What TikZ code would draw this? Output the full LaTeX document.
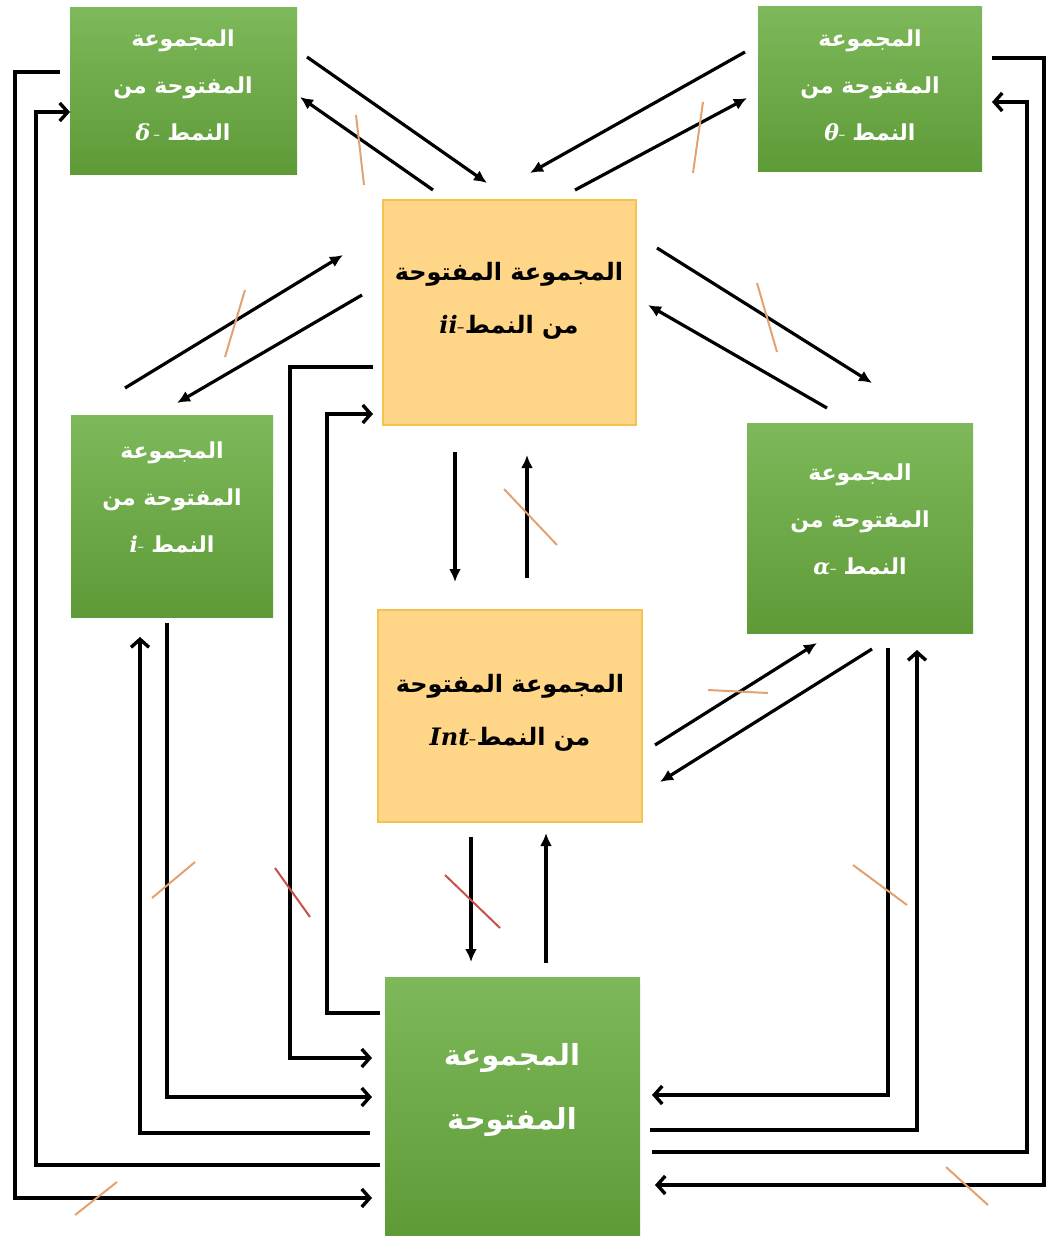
\documentclass[tikz,border=0pt]{standalone}
\usepackage{fontspec}
\newfontfamily\arabicfont[Script=Arabic]{DejaVu Sans}
\newfontfamily\symfont{DejaVu Serif}
\TeXXeTstate=1
\usetikzlibrary{arrows.meta}
\newcommand\ART[1]{{\arabicfont\bfseries\beginR #1\endR}}
\newcommand\MS[1]{{\symfont\bfseries\itshape #1}}
\definecolor{gtop}{HTML}{7DB85A}
\definecolor{gbot}{HTML}{5E9B37}
\definecolor{orfill}{HTML}{FFD587}
\definecolor{ordraw}{HTML}{F4C251}
\definecolor{slasho}{HTML}{E2A272}
\definecolor{slashr}{HTML}{C8504A}
\tikzset{
  gbox/.style={anchor=north west, inner sep=0pt, outer sep=0pt, draw=none,
    top color=gtop, bottom color=gbot},
  obox/.style={anchor=north west, inner sep=0pt, outer sep=0pt,
    fill=orfill, draw=ordraw, line width=1.2pt},
  gtext/.style={align=center, text=white, font=\fontsize{22}{47}\selectfont},
  otext/.style={align=center, text=black, font=\fontsize{24}{53}\selectfont},
  btext/.style={align=center, text=white, font=\fontsize{29}{64}\selectfont},
  diag/.style={line width=3.2pt, -{Latex[length=13pt,width=12pt]}},
  vert/.style={line width=3.4pt, -{Latex[length=13pt,width=12pt]}},
  route/.style={line width=3.6pt, -{Straight Barb[length=8pt,width=18pt,line width=3.4pt]}},
  cuto/.style={draw=slasho, line width=2pt},
  cutr/.style={draw=slashr, line width=2pt},
}
\begin{document}
\begin{tikzpicture}[x=1pt, y=-1pt]
\useasboundingbox[fill=white] (0,0) rectangle (1051,1236);

% boxes
\node[gbox, minimum width=227pt, minimum height=166pt] (delta) at (70,8) {};
\node[gbox, minimum width=224pt, minimum height=164pt] (theta) at (758,7) {};
\node[obox, minimum width=253pt, minimum height=225pt] (ii) at (383,200) {};
\node[gbox, minimum width=202pt, minimum height=202pt] (iset) at (71,415) {};
\node[gbox, minimum width=226pt, minimum height=210pt] (alpha) at (747,423) {};
\node[obox, minimum width=264pt, minimum height=212pt] (int) at (378,610) {};
\node[gbox, minimum width=255pt, minimum height=259pt] (open) at (385,977) {};

% labels
\node[gtext] (delta-t) at (183,85) {\ART{المجموعة}\\ \ART{المفتوحة من}\\ \MS{δ}\,-\ \ART{النمط}};
\node[gtext] (theta-t) at (870,85) {\ART{المجموعة}\\ \ART{المفتوحة من}\\ \MS{θ}-\ \ART{النمط}};
\node[gtext] (i-t) at (172,497) {\ART{المجموعة}\\ \ART{المفتوحة من}\\ \MS{i}-\ \ART{النمط}};
\node[gtext] (alpha-t) at (860,520) {\ART{المجموعة}\\ \ART{المفتوحة من}\\ \MS{α}-\ \ART{النمط}};
\node[otext] (ii-t) at (509,301) {\ART{المجموعة المفتوحة}\\ \MS{ii}-\ART{من النمط}};
\node[otext] (int-t) at (510,713) {\ART{المجموعة المفتوحة}\\ \MS{Int}-\ART{من النمط}};
\node[btext] (open-t) at (512,1090) {\ART{المجموعة}\\ \ART{المفتوحة}};

% diagonal pairs around the ii box
\draw[diag] ([shift={(10,49)}]delta.north east) -- ([shift={(104,-17)}]ii.north west);
\draw[diag] ([shift={(50,-10)}]ii.north west) -- ([shift={(3,89)}]delta.north east);
\draw[diag] ([shift={(-13,45)}]theta.north west) -- ([shift={(-106,-27)}]ii.north east);
\draw[diag] ([shift={(-61,-10)}]ii.north east) -- ([shift={(-11,91)}]theta.north west);
\draw[diag] ([shift={(54,-27)}]iset.north west) -- ([shift={(-40,55)}]ii.north west);
\draw[diag] ([shift={(-21,95)}]ii.north west) -- ([shift={(106,-12)}]iset.north west);
\draw[diag] ([shift={(21,48)}]ii.north east) -- ([shift={(125,-40)}]alpha.north west);
\draw[diag] ([shift={(80,-15)}]alpha.north west) -- ([shift={(12,105)}]ii.north east);

% ii <-> Int, Int <-> alpha, Int <-> open
\draw[vert] ([shift={(72,27)}]ii.south west) -- ([shift={(77,-28)}]int.north west);
\draw[vert] ([shift={(149,-32)}]int.north west) -- ([shift={(144,30)}]ii.south west);
\draw[diag] ([shift={(13,135)}]int.north east) -- ([shift={(70,10)}]alpha.south west);
\draw[diag] ([shift={(125,16)}]alpha.south west) -- ([shift={(18,172)}]int.north east);
\draw[vert] ([shift={(93,15)}]int.south west) -- ([shift={(86,-15)}]open.north west);
\draw[vert] ([shift={(161,-14)}]open.north west) -- ([shift={(168,11)}]int.south west);

% routed connectors, left side
\draw[route] ([shift={(-10,64)}]delta.north west) -- ++(-45,0) |- ([shift={(-13,-38)}]open.south west);
\draw[route] ([shift={(-5,-71)}]open.south west) -- ++(-344,0) |- ([shift={(0,104)}]delta.north west);
\draw[route] ([shift={(96,6)}]iset.south west) |- ([shift={(-13,120)}]open.north west);
\draw[route] ([shift={(-15,156)}]open.north west) -| ([shift={(69,20)}]iset.south west);
\draw[route] ([shift={(-10,167)}]ii.north west) -- ++(-83,0) |- ([shift={(-13,81)}]open.north west);
\draw[route] ([shift={(-5,36)}]open.north west) -- ++(-53,0) |- ([shift={(-10,214)}]ii.north west);

% routed connectors, right side
\draw[route] ([shift={(141,15)}]alpha.south west) |- ([shift={(12,118)}]open.north east);
\draw[route] ([shift={(10,153)}]open.north east) -| ([shift={(170,17)}]alpha.south west);
\draw[route] ([shift={(10,51)}]theta.north east) -- ++(52,0) |- ([shift={(15,208)}]open.north east);
\draw[route] ([shift={(12,175)}]open.north east) -- ++(375,0) |- ([shift={(10,95)}]theta.north east);

% strike marks on the negated implications
\draw[cuto] (356,115) -- (364,185);
\draw[cuto] (703,102) -- (693,173);
\draw[cuto] (245,290) -- (225,357);
\draw[cuto] (757,283) -- (777,352);
\draw[cuto] (504,489) -- (557,545);
\draw[cuto] (708,690) -- (768,693);
\draw[cutr] (445,875) -- (500,928);
\draw[cutr] (275,868) -- (310,917);
\draw[cuto] (152,898) -- (195,862);
\draw[cuto] (853,865) -- (907,905);
\draw[cuto] (75,1215) -- (117,1182);
\draw[cuto] (946,1167) -- (988,1205);
\end{tikzpicture}
\end{document}
